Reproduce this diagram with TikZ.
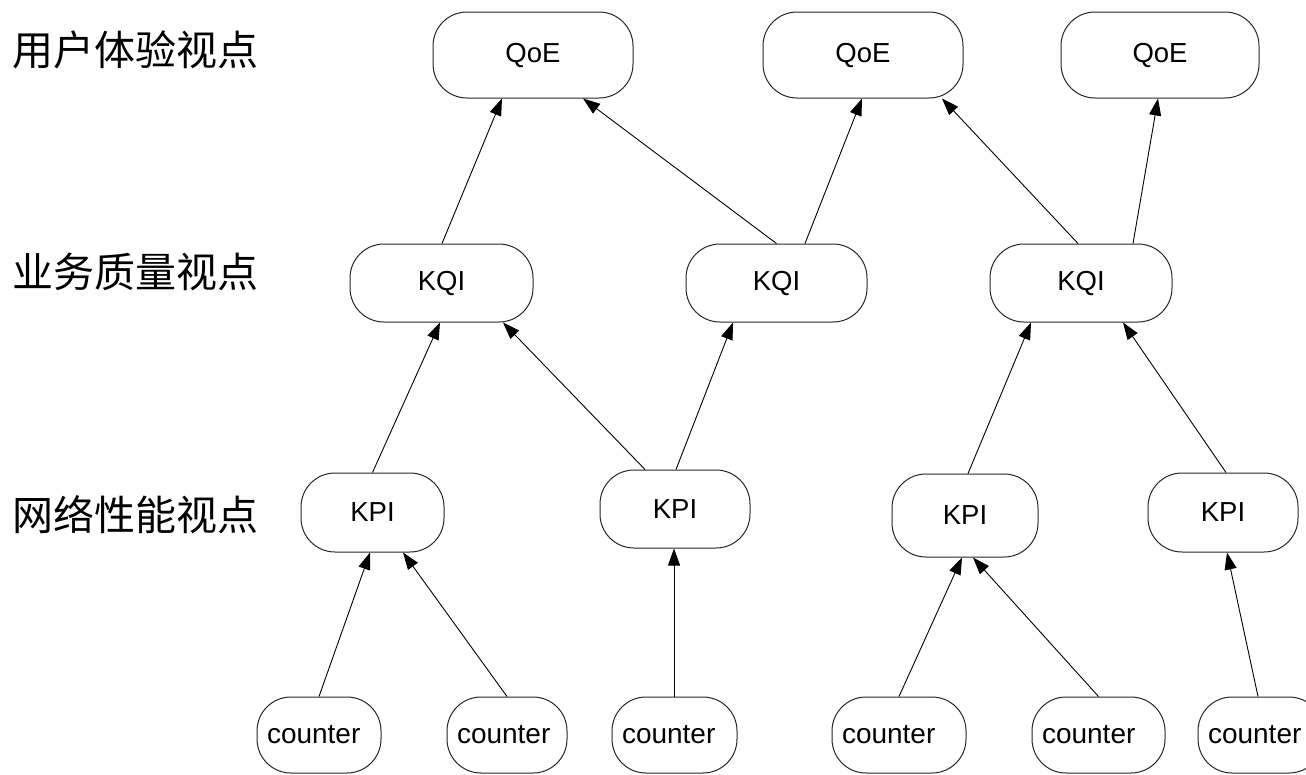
\documentclass[tikz,border=0pt]{standalone}
\usepackage{fontspec}
\setmainfont{Liberation Sans}
\newfontfamily\cjk{Noto Sans CJK SC}
\usetikzlibrary{arrows.meta}

% counter label: left-aligned text inside a fixed-width box
\newcommand{\ctrtext}[1]{\makebox[#1][l]{\hspace{10pt}counter}}

\begin{document}
\begin{tikzpicture}[x=1pt,y=-1pt,
  box/.style={draw=black!85, line width=1pt, rounded corners=34pt, inner sep=0pt,
              font=\fontsize{27.5}{30}\selectfont},
  ctr/.style={box, minimum height=76pt, font=\fontsize{28}{30}\selectfont},
  link/.style={draw=black, line width=0.9pt, -{Triangle[length=17pt,width=12pt]}},
  view/.style={anchor=west, inner sep=0pt, font=\cjk\fontsize{41}{45}\selectfont}]

\path[use as bounding box] (0,0) rectangle (1306,774);

% level titles
\node[view] (v1) at (12,50)  {用户体验视点};
\node[view] (v2) at (12,272) {业务质量视点};
\node[view] (v3) at (12,515) {网络性能视点};

% QoE layer
\node[box, minimum width=200pt, minimum height=86pt] (q1) at (533,55)  {QoE};
\node[box, minimum width=200pt, minimum height=86pt] (q2) at (863,55)  {QoE};
\node[box, minimum width=198pt, minimum height=86pt] (q3) at (1160,55) {QoE};

% KQI layer
\node[box, minimum width=183pt, minimum height=78pt] (k1) at (441.5,283) {KQI};
\node[box, minimum width=181pt, minimum height=78pt] (k2) at (776.5,283) {KQI};
\node[box, minimum width=182pt, minimum height=78pt] (k3) at (1081,283)  {KQI};

% KPI layer
\node[box, minimum width=143pt, minimum height=79pt] (p1) at (372.5,512.5) {KPI};
\node[box, minimum width=150pt, minimum height=78pt] (p2) at (675,509)     {KPI};
\node[box, minimum width=146pt, minimum height=83pt] (p3) at (965,515.5)   {KPI};
\node[box, minimum width=150pt, minimum height=79pt] (p4) at (1223,512.5)  {KPI};

% counters
\node[ctr] (c1) at (319,735)    {\ctrtext{124pt}};
\node[ctr] (c2) at (507,735)    {\ctrtext{120pt}};
\node[ctr] (c3) at (674.5,735)  {\ctrtext{125pt}};
\node[ctr] (c4) at (899,735)    {\ctrtext{134pt}};
\node[ctr] (c5) at (1098.5,735) {\ctrtext{133pt}};
\node[ctr] (c6) at (1260.5,735) {\ctrtext{125pt}};

% KQI -> QoE
\draw[link] ([xshift=0.5pt]k1.north) -- ([xshift=-31pt]q1.south);
\draw[link] (k2.north) -- ([xshift=50pt]q1.south);
\draw[link] ([xshift=28.5pt]k2.north) -- ([xshift=-1pt]q2.south);
\draw[link] ([xshift=-3pt]k3.north) -- ([xshift=79pt]q2.south);
\draw[link] ([xshift=52pt]k3.north) -- ([xshift=-2pt]q3.south);

% KPI -> KQI
\draw[link] (p1.north) -- ([xshift=-1.5pt]k1.south);
\draw[link] ([xshift=-30pt]p2.north) -- ([xshift=61.5pt]k1.south);
\draw[link] ([xshift=1pt]p2.north) -- ([xshift=-43.5pt]k2.south);
\draw[link] ([xshift=3pt]p3.north) -- ([xshift=-50pt]k3.south);
\draw[link] ([xshift=3pt]p4.north) -- ([xshift=42pt]k3.south);

% counter -> KPI
\draw[link] (c1.north) -- ([xshift=-2.5pt]p1.south);
\draw[link] (c2.north) -- ([xshift=30.5pt]p1.south);
\draw[link] ([xshift=-0.5pt]c3.north) -- ([xshift=-1pt]p2.south);
\draw[link] (c4.north) -- ([xshift=-3pt]p3.south);
\draw[link] (c5.north) -- ([xshift=8pt]p3.south);
\draw[link] ([xshift=-2.5pt]c6.north) -- ([xshift=4pt]p4.south);
\end{tikzpicture}
\end{document}
